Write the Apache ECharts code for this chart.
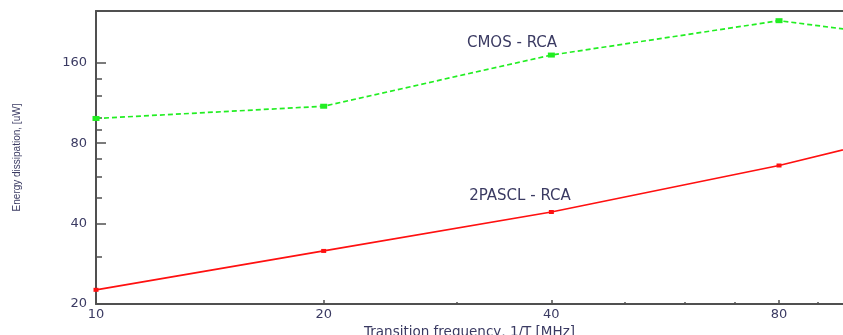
<!DOCTYPE html>
<html>
<head>
<meta charset="utf-8">
<script src="https://cdn.jsdelivr.net/npm/echarts@6/dist/echarts.min.js"></script>
<style>
html,body{margin:0;padding:0;background:#fff;}
#chart{width:843px;height:335px;}
</style>
</head>
<body>
<div id="chart"></div>
<script>
// Data
const frequency = [10, 20, 40, 80, 100];
const cmosRca = [99, 110, 171, 230, 212];
const pascl2Rca = [22.6, 31.6, 44.2, 66, 77];
const xMajorTicks = [10, 20, 40, 80];
const xMinorTicks = [30, 50, 60, 70, 90];
const yMajorTicks = [20, 40, 80, 160];
const yMinorTicks = [30, 50, 60, 70, 90, 100, 120, 140];
const seriesNames = ['CMOS - RCA', '2PASCL - RCA'];

const labelColor = '#3a3a62';
const frameColor = '#505050';
const font = 'DejaVu Sans';

const chart = echarts.init(document.getElementById('chart'));

const xBase = {
  type: 'log', logBase: 10, min: 10, max: 97.2, gridIndex: 0,
  splitLine: { show: false }, minorTick: { show: false }, minorSplitLine: { show: false }
};
const yBase = {
  type: 'log', logBase: 10, min: 20, max: 250, gridIndex: 0,
  splitLine: { show: false }, minorTick: { show: false }, minorSplitLine: { show: false }
};

chart.setOption({
  animation: false,
  backgroundColor: '#ffffff',
  grid: {
    left: 96, right: 0, top: 11, bottom: 31,
    outerBoundsMode: 'none', containLabel: false,
    show: false
  },
  xAxis: [
    Object.assign({}, xBase, {
      position: 'bottom',
      axisLine: { show: true, lineStyle: { color: frameColor, width: 2 } },
      axisTick: { show: true, inside: true, length: 4, customValues: xMajorTicks,
        lineStyle: { color: frameColor, width: 1.5 } },
      axisLabel: { show: true, customValues: xMajorTicks, margin: 4,
        color: labelColor, fontFamily: font, fontSize: 13 },
      name: 'Transition frequency, 1/T [MHz]', nameLocation: 'middle', nameGap: 16,
      nameTextStyle: { color: labelColor, fontFamily: font, fontSize: 13.5 }
    }),
    Object.assign({}, xBase, {
      position: 'bottom',
      axisLine: { show: false },
      axisTick: { show: true, inside: true, length: 2, customValues: xMinorTicks,
        lineStyle: { color: frameColor, width: 1.5 } },
      axisLabel: { show: false }
    }),
    Object.assign({}, xBase, {
      position: 'top',
      axisLine: { show: true, lineStyle: { color: frameColor, width: 2 } },
      axisTick: { show: false },
      axisLabel: { show: false }
    })
  ],
  yAxis: [
    Object.assign({}, yBase, {
      position: 'left',
      axisLine: { show: true, lineStyle: { color: frameColor, width: 2 } },
      axisTick: { show: true, inside: true, length: 10, customValues: yMajorTicks,
        lineStyle: { color: frameColor, width: 1.5 } },
      axisLabel: { show: true, customValues: yMajorTicks, margin: 9,
        color: labelColor, fontFamily: font, fontSize: 13 },
      name: 'Energy dissipation, [uW]', nameLocation: 'middle', nameGap: 74, nameRotate: 90,
      nameTextStyle: { color: labelColor, fontFamily: 'Liberation Sans', fontSize: 10 }
    }),
    Object.assign({}, yBase, {
      position: 'left',
      axisLine: { show: false },
      axisTick: { show: true, inside: true, length: 6, customValues: yMinorTicks,
        lineStyle: { color: frameColor, width: 1.5 } },
      axisLabel: { show: false }
    })
  ],
  series: [
    {
      name: seriesNames[0], type: 'line', xAxisIndex: 0, yAxisIndex: 0,
      data: frequency.map((f, i) => [f, cmosRca[i]]),
      symbol: 'rect', symbolSize: [7, 5], showSymbol: true,
      itemStyle: { color: '#22ee22' },
      lineStyle: { color: '#22ee22', width: 1.7, type: [5, 3] },
      clip: true
    },
    {
      name: seriesNames[1], type: 'line', xAxisIndex: 0, yAxisIndex: 0,
      data: frequency.map((f, i) => [f, pascl2Rca[i]]),
      symbol: 'rect', symbolSize: [5, 4], showSymbol: true,
      itemStyle: { color: '#ff1010' },
      lineStyle: { color: '#ff1010', width: 1.7 },
      clip: true
    }
  ],
  graphic: [
    { type: 'text', x: 512, y: 43, style: { text: seriesNames[0],
      fill: labelColor, font: '15px "DejaVu Sans"', align: 'center', verticalAlign: 'middle' } },
    { type: 'text', x: 520, y: 196, style: { text: seriesNames[1],
      fill: labelColor, font: '15px "DejaVu Sans"', align: 'center', verticalAlign: 'middle' } }
  ]
});
</script>
</body>
</html>
